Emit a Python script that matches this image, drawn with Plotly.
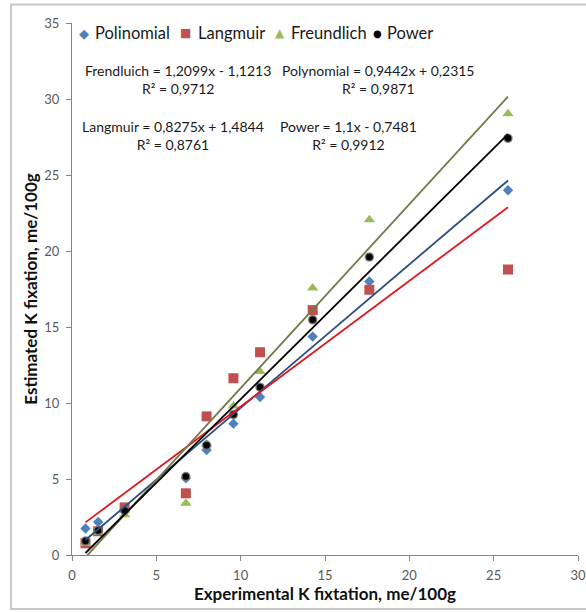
import plotly.graph_objects as go

# Experimental potassium fixation (me/100g) and the estimates from four models
experimental = [0.8, 1.55, 3.12, 6.75, 7.98, 9.57, 11.15, 14.27, 17.63, 25.85]
polinomial = [1.74, 2.17, 3.0, 5.05, 6.91, 8.64, 10.39, 14.37, 17.99, 24.0]
langmuir = [0.77, 1.56, 3.13, 4.06, 9.12, 11.63, 13.34, 16.11, 17.45, 18.78]
freundlich = [0.75, 1.5, 2.65, 3.4, 7.3, 9.8, 12.07, 17.56, 22.05, 29.03]
power = [0.92, 1.62, 2.93, 5.16, 7.22, 9.24, 11.04, 15.47, 19.6, 27.41]

# Linear trendline coefficients (slope, intercept) and R² per model
fit_poli = (0.9442, 0.2315, 0.9871)
fit_lang = (0.8275, 1.4844, 0.8761)
fit_freu = (1.2099, -1.1213, 0.9712)
fit_power = (1.1, -0.7481, 0.9912)

x_ticks = [0, 5, 10, 15, 20, 25, 30]
y_ticks = [0, 5, 10, 15, 20, 25, 30, 35]

FONT = "Lato"
L, R, T, B = 72, 8, 23, 57
W, H = 586, 612
PW, PH = W - L - R, H - T - B


def px(xp):
    return (xp - L) / PW


def py(yp):
    return (H - B - yp) / PH


def fmt(v):
    return f"{v:g}".replace(".", ",")


fig = go.Figure()

series = [
    ("Polinomial", polinomial, "diamond", 8, "#4F81BD", dict(width=0)),
    ("Langmuir", langmuir, "square", 10, "#C0504D", dict(width=0)),
    ("Freundlich", freundlich, "triangle-up", 10, "#9BBB59", dict(width=0)),
    ("Power", power, "circle", 8, "#000000", dict(color="rgba(120,120,120,0.85)", width=1.5)),
]
for name, ys, sym, size, col, line in series:
    fig.add_trace(go.Scatter(
        x=experimental, y=ys, mode="markers", name=name,
        marker=dict(symbol=sym, size=size, color=col, line=line),
        showlegend=False,
    ))

# Trendlines over the range of the measured data
x_lo, x_hi = min(experimental), max(experimental)
trend = [
    (fit_poli, "#2B4C7E"),
    (fit_lang, "#E0161F"),
    (fit_freu, "#77784A"),
    (fit_power, "#000000"),
]
for (a, b, _), col in trend:
    fig.add_trace(go.Scatter(
        x=[x_lo, x_hi], y=[a * x_lo + b, a * x_hi + b], mode="lines",
        line=dict(color=col, width=1.8), showlegend=False, hoverinfo="skip",
    ))

# Equation labels
def eq_label(name, fit):
    a, b, r2 = fit
    sign = "-" if b < 0 else "+"
    return f"{name} = {fmt(a)}x {sign} {fmt(abs(b))}<br>R² = {fmt(r2)}"


labels = [
    ("Frendluich", fit_freu, 178, 79),
    ("Polynomial", fit_poli, 378, 79),
    ("Langmuir", fit_lang, 173, 135.5),
    ("Power", fit_power, 348.5, 135.5),
]
for name, fit, cx, cy in labels:
    fig.add_annotation(
        text=eq_label(name, fit), x=px(cx), y=py(cy), xref="paper", yref="paper",
        xanchor="center", yanchor="middle", align="center", showarrow=False,
        font=dict(family=FONT, size=14, color="#1a1a1a"),
    )

# Legend row along the top of the plot
legend_items = [
    ("Polinomial", "◆", "#4F81BD", 83.5, 93, 13),
    ("Langmuir", "■", "#C0504D", 185, 196, 12),
    ("Freundlich", "▲", "#9BBB59", 280, 289, 12),
    ("Power", "●", "#000000", 377, 385, 10),
]
for name, glyph, col, gx, tx, gs in legend_items:
    fig.add_annotation(
        text=glyph, x=px(gx), y=py(33), xref="paper", yref="paper",
        xanchor="center", yanchor="middle", showarrow=False,
        font=dict(family="DejaVu Sans", size=gs, color=col),
    )
    fig.add_annotation(
        text=name, x=px(tx), y=py(33), xref="paper", yref="paper",
        xanchor="left", yanchor="middle", showarrow=False,
        font=dict(family=FONT, size=16.5, color="#1a1a1a"),
    )

# Chart frame
fig.add_shape(
    type="rect", xref="paper", yref="paper",
    x0=px(11), x1=px(640), y0=py(609), y1=py(4.5),
    line=dict(color="#C8C8C8", width=2), fillcolor="rgba(0,0,0,0)", layer="below",
)

axis_common = dict(
    showgrid=False, zeroline=False, showline=True, linecolor="#868686", linewidth=1,
    ticks="outside", ticklen=5, tickcolor="#868686", tickwidth=1,
    tickfont=dict(family=FONT, size=13, color="#595959"),
)
fig.update_xaxes(
    range=[0, 30], tickvals=x_ticks, ticktext=[str(v) for v in x_ticks],
    ticklabelstandoff=3,
    title=dict(text="<b>Experimental K fixtation, me/100g</b>", standoff=6,
               font=dict(family=FONT, size=17, color="#111111")),
    **axis_common,
)
fig.update_yaxes(
    range=[0, 35], tickvals=y_ticks, ticktext=[str(v) for v in y_ticks],
    ticklabelstandoff=4,
    title=dict(text="<b>Estimated K fixation, me/100g</b>", standoff=2,
               font=dict(family=FONT, size=17, color="#111111")),
    **axis_common,
)
fig.update_layout(
    width=W, height=H, margin=dict(l=L, r=R, t=T, b=B, autoexpand=False),
    paper_bgcolor="white", plot_bgcolor="white",
    showlegend=False,
)
fig.write_html("out.html")
